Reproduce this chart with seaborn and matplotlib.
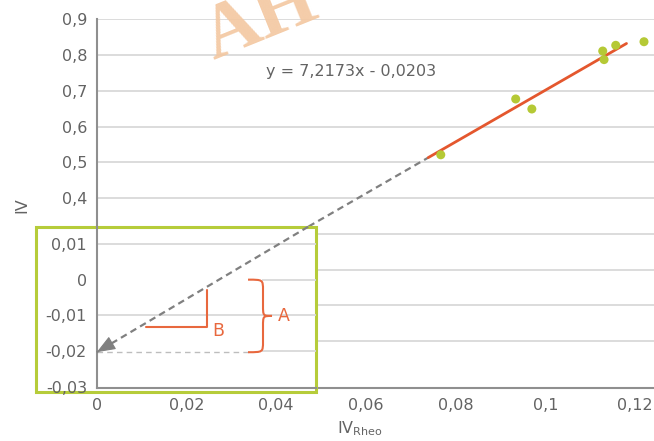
import numpy as np
import pandas as pd
import seaborn as sns
import matplotlib
matplotlib.use("Agg")
import matplotlib.pyplot as plt
from matplotlib.patches import Rectangle, PathPatch
from matplotlib.path import Path
from matplotlib.ticker import FuncFormatter

# ---- data -------------------------------------------------------------
iv_rheo = [0.0767, 0.0934, 0.0970, 0.1128, 0.1131, 0.1157, 0.1220]
iv = [0.521, 0.677, 0.649, 0.811, 0.787, 0.827, 0.837]

slope = 7.2173
intercept = -0.0203
fit_span = [0.0739, 0.1181]

x_ticks = [0, 0.02, 0.04, 0.06, 0.08, 0.10, 0.12]
y_ticks_main = [0.0, 0.1, 0.2, 0.3, 0.4, 0.5, 0.6, 0.7, 0.8, 0.9]
y_labelled_from = 0.4
y_ticks_zoom = [0.01, 0.0, -0.01, -0.02, -0.03]

# ---- style ------------------------------------------------------------
sns.set_theme(style="white")
plt.rcParams["font.family"] = ["DejaVu Sans"]

GREY_TXT = "#636363"
SPINE = "#8f8f8f"
GRID = "#d9d9d9"
GREEN = "#b6cc3a"
DOT = "#b5c935"
ORANGE = "#e4572e"
ANNOT = "#e8683e"
DASH = "#808080"
FS = 11.5


def comma_fmt(v, pos=None):
    s = f"{v:.3f}".rstrip("0").rstrip(".")
    if s in ("-0", ""):
        s = "0"
    return s.replace(".", ",")


def main_y_fmt(v, pos=None):
    # the lower main-axis values sit under the magnified frame
    return comma_fmt(v) if v >= y_labelled_from - 1e-9 else ""


fig = plt.figure(figsize=(6.54, 4.41), dpi=100)

# main axes
ax = fig.add_axes([0.14786, 0.11950, 0.85214, 0.83741])
ax.set_xlim(0, 0.12423)
ax.set_ylim(-0.1316, 0.9005)
ax.set_xticks(x_ticks)
ax.set_yticks(y_ticks_main)
ax.xaxis.set_major_formatter(FuncFormatter(comma_fmt))
ax.yaxis.set_major_formatter(FuncFormatter(main_y_fmt))
ax.tick_params(length=0, labelsize=FS, labelcolor=GREY_TXT)
ax.tick_params(axis="x", pad=7)
ax.tick_params(axis="y", pad=6.5)
for side in ("top", "right"):
    ax.spines[side].set_visible(False)
for side in ("left", "bottom"):
    ax.spines[side].set_color(SPINE)
    ax.spines[side].set_linewidth(1.5)
ax.grid(axis="y", color=GRID, linewidth=1.3)
ax.grid(axis="x", visible=False)
ax.set_axisbelow(True)

# trend line and its backward extension
fit_df = pd.DataFrame({"x": fit_span})
fit_df["y"] = slope * fit_df["x"] + intercept
ext_df = pd.DataFrame({"x": [0.0, fit_span[0]]})
ext_df["y"] = slope * ext_df["x"] + intercept

sns.lineplot(data=ext_df, x="x", y="y", ax=ax, color=DASH, linewidth=1.6,
             dashes=False, linestyle=(0, (3, 2)), zorder=2)
sns.lineplot(data=fit_df, x="x", y="y", ax=ax, color=ORANGE, linewidth=2.0,
             zorder=3)
sns.scatterplot(x=iv_rheo, y=iv, ax=ax, color=DOT, s=42, edgecolor="none",
                zorder=4)

ax.text(0.457, 0.8565, "y = 7,2173x - 0,0203", transform=ax.transAxes,
        ha="center", va="center", fontsize=FS, color=GREY_TXT)

ax.set_xlabel(r"IV$_{\mathrm{Rheo}}$", fontsize=FS, color=GREY_TXT)
ax.xaxis.set_label_coords(0.4725, -0.083)
ax.set_ylabel("IV", fontsize=FS, color=GREY_TXT, va="center")
ax.yaxis.set_label_coords(-0.134, 0.4963)

# framed magnified region around the intercept
box = Rectangle((0.05474, 0.10998), 0.42813, 0.37596, transform=fig.transFigure,
                facecolor="white", edgecolor=GREEN, linewidth=2.2, zorder=1.5)
fig.add_artist(box)

axz = fig.add_axes([0.14786, 0.11950, 0.33502, 0.36644], zorder=2)
axz.set_facecolor("none")
axz.set_xlim(0, 0.04884)
axz.set_ylim(-0.0304, 0.01482)
axz.set_xticks([])
axz.set_yticks(y_ticks_zoom)
axz.yaxis.set_major_formatter(FuncFormatter(comma_fmt))
axz.tick_params(length=0, labelsize=FS, labelcolor=GREY_TXT, pad=7)
for side in ("top", "right"):
    axz.spines[side].set_visible(False)
for side in ("left", "bottom"):
    axz.spines[side].set_color(SPINE)
    axz.spines[side].set_linewidth(1.5)
axz.grid(False)

x_brace = [0.03373, 0.03707, 0.03908]
axz.hlines([0.01, -0.01], 0, 0.04884, color=GRID, linewidth=1.3, zorder=1)
axz.hlines([0.0, -0.02], 0.0368, 0.04884, color=GRID, linewidth=1.3, zorder=1)

# where the extended trend line leaves the frame, in zoom coordinates
fig.canvas.draw()
top_fig = 0.11950 + 0.36644
y_top = ax.transData.inverted().transform(
    fig.transFigure.transform((0, top_fig)))[1]
x_top = (y_top - intercept) / slope
xz_top, yz_top = axz.transData.inverted().transform(
    ax.transData.transform((x_top, y_top)))

axz.plot([xz_top, 0], [yz_top, intercept], color=DASH, linewidth=1.6,
         linestyle=(0, (3, 2)), zorder=3, clip_on=False)
dxz = xz_top * 0.08
dyz = (yz_top - intercept) * 0.08
axz.annotate("", xy=(0, intercept), xytext=(dxz, intercept + dyz),
             arrowprops=dict(arrowstyle="-|>,head_length=0.9,head_width=0.35",
                             color=DASH, lw=0.8, shrinkA=0, shrinkB=0,
                             mutation_scale=13),
             annotation_clip=False, zorder=4)

# faint guide at the intercept level
axz.plot([0, x_brace[0]], [intercept, intercept], color="#bdbdbd",
         linewidth=1.0, linestyle=(0, (4, 3)), zorder=2)

# slope triangle (B)
axz.plot([0.0109, 0.0246, 0.0246], [-0.0132, -0.0132, -0.0029],
         color=ANNOT, linewidth=1.5, zorder=3)
axz.text(0.0270, -0.0145, "B", ha="center", va="center", fontsize=12.5,
         color=ANNOT)

# brace marking the intercept (A)
x0, xm, xt = x_brace
top, bot = 0.0, intercept
mid = (top + bot) / 2
r = 0.003
verts = [
    (x0, top), (xm, top), (xm, top), (xm, top - r),
    (xm, mid + r),
    (xm, mid), (xm, mid), (xt, mid),
    (xm, mid), (xm, mid), (xm, mid - r),
    (xm, bot + r),
    (xm, bot), (xm, bot), (x0, bot),
]
codes = [Path.MOVETO, Path.CURVE4, Path.CURVE4, Path.CURVE4,
         Path.LINETO,
         Path.CURVE4, Path.CURVE4, Path.CURVE4,
         Path.CURVE4, Path.CURVE4, Path.CURVE4,
         Path.LINETO,
         Path.CURVE4, Path.CURVE4, Path.CURVE4]
axz.add_patch(PathPatch(Path(verts, codes), facecolor="none", edgecolor=ANNOT,
                        linewidth=1.5, zorder=3))
axz.text(0.0418, -0.0103, "A", ha="center", va="center", fontsize=12.5,
         color=ANNOT)

# watermark
fig.text(0.3257, 0.864, "AH", fontsize=56, fontweight="bold",
         family=["Liberation Serif", "DejaVu Serif"], color="#f3c7a0",
         rotation=22, rotation_mode="anchor", ha="left", va="baseline",
         alpha=0.9, zorder=6)

fig.savefig("out.png", dpi=100)
